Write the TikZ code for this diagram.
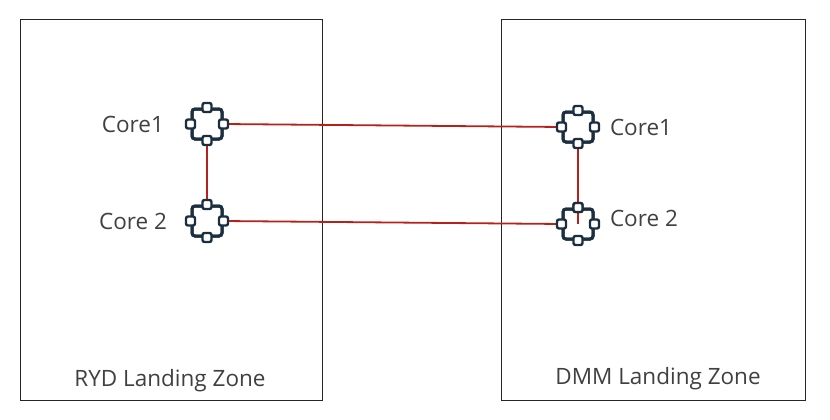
\documentclass[tikz,border=0pt]{standalone}
\usepackage{fontspec}
\setmainfont{Open Sans}
\usetikzlibrary{positioning}
\tikzset{
    zone/.style={draw=black!85, line width=1pt},
    core/.style={draw=iconblue, line width=3pt, rounded corners=3pt, minimum size=30pt, inner sep=0pt},
    port/.style={draw=iconblue, fill=white, line width=2.4pt, rounded corners=2pt, minimum size=9pt, inner sep=0pt},
    link/.style={draw=linkred, line width=1.8pt},
    lbl/.style={font=\fontsize{22.5}{27}\selectfont, text=black!75},
}
\definecolor{iconblue}{HTML}{1B2F40}
\definecolor{linkred}{HTML}{B5221C}
\begin{document}
\begin{tikzpicture}[x=1pt, y=-1pt]
    \useasboundingbox (0,0) rectangle (830,420);
    % landing zones
    \draw[zone] (20,20) rectangle (322,400);
    \draw[zone] (501,20) rectangle (805,400);
    \node[lbl] (rydname) at (170,381) {RYD Landing Zone};
    \node[lbl] (dmmname) at (658,379) {DMM Landing Zone};

    % links
    \node[core] (ryd1) at (207,124) {};
    \node[core] (ryd2) at (207,221) {};
    \node[core] (dmm1) at (578,127) {};
    \node[core] (dmm2) at (578,224) {};
    \draw[link] (ryd1.east) -- (dmm1.west);
    \draw[link] (ryd2.east) -- (dmm2.west);
    \draw[link] (ryd1.south) -- (ryd2.north);
    \draw[link] (dmm1.south) -- (dmm2.center);

    % icons on top
    \foreach \c in {ryd1, ryd2, dmm1, dmm2} {
        \node[core] at (\c) {};
        \foreach \a in {north, south, east, west}
            \node[port] at (\c.\a) {};
    }
    \node[port] at (dmm2.north) {};

    \node[lbl, left=23pt of ryd1] (rydc1) {Core1};
    \node[lbl, left=20pt of ryd2] (rydc2) {Core 2};
    \node[lbl, right=12pt of dmm1] (dmmc1) {Core1};
    \node[lbl, right=12pt of dmm2, yshift=6pt] (dmmc2) {Core 2};
\end{tikzpicture}
\end{document}
